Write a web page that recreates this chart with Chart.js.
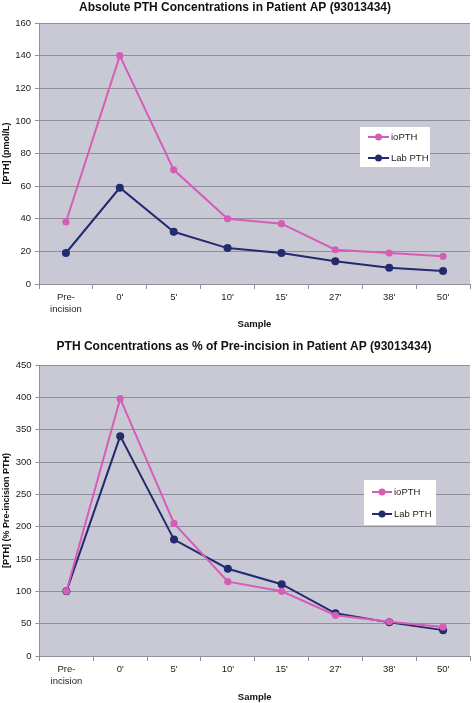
<!DOCTYPE html>
<html>
<head>
<meta charset="utf-8">
<script src="https://cdn.jsdelivr.net/npm/chart.js@4/dist/chart.umd.min.js"></script>
<style>
  html, body { margin: 0; padding: 0; background: #fff; }
  #wrap { position: relative; width: 474px; height: 703px; }
  canvas { position: absolute; left: 0; }
</style>
</head>
<body>
<div id="wrap">
  <canvas id="absChart" width="474" height="340" style="top:0"></canvas>
  <canvas id="pctChart" width="474" height="365" style="top:338px"></canvas>
</div>
<script>
'use strict';

// Data
const sampleLabels = [['Pre-', 'incision'], "0'", "5'", "10'", "15'", "27'", "38'", "50'"];
const ioPthAbs = [38, 140, 70, 40, 37, 21, 19, 17];
const labPthAbs = [19, 59, 32, 22, 19, 14, 10, 8];
const ioPthPct = [100, 398, 205, 115, 100, 63, 53, 45];
const labPthPct = [100, 340, 180, 135, 111, 66, 52, 40];
const absTicks = [0, 20, 40, 60, 80, 100, 120, 140, 160];
const pctTicks = [0, 50, 100, 150, 200, 250, 300, 350, 400, 450];

// Colors
const pink = '#d65db6';
const navy = '#232a6e';
const plotBg = '#c9c9d6';
const gridColor = '#8f8f9c';
const textColor = '#222';
const fontFamily = "'Liberation Sans', Arial, Helvetica, sans-serif";

// plot area background
const plotBackground = {
    id: 'plotBackground',
    beforeDraw(chart) {
        const { ctx, chartArea: a } = chart;
        ctx.save();
        ctx.fillStyle = plotBg;
        ctx.fillRect(a.left, a.top, a.right - a.left, a.bottom - a.top);
        ctx.restore();
    }
};

// title placed at a fixed spot
const fixedTitle = {
    id: 'fixedTitle',
    afterDraw(chart, args, opts) {
        const ctx = chart.ctx;
        ctx.save();
        ctx.font = 'bold 12px ' + fontFamily;
        ctx.fillStyle = '#111';
        ctx.textAlign = 'center';
        ctx.textBaseline = 'middle';
        ctx.fillText(opts.text, opts.x, opts.y);
        ctx.restore();
    }
};

// legend box inside the plot area
const boxLegend = {
    id: 'boxLegend',
    afterDatasetsDraw(chart, args, opts) {
        const ctx = chart.ctx;
        ctx.save();
        ctx.fillStyle = '#fff';
        ctx.fillRect(opts.x, opts.y, opts.w, opts.h);
        chart.data.datasets.forEach((ds, i) => {
            const cy = opts.firstY + i * opts.gap;
            ctx.strokeStyle = ds.borderColor;
            ctx.lineWidth = 2;
            ctx.beginPath();
            ctx.moveTo(opts.x + opts.lineStart, cy);
            ctx.lineTo(opts.x + opts.lineStart + opts.lineLen, cy);
            ctx.stroke();
            ctx.fillStyle = ds.backgroundColor;
            ctx.beginPath();
            ctx.arc(opts.x + opts.lineStart + opts.lineLen / 2, cy, 3.5, 0, Math.PI * 2);
            ctx.fill();
            ctx.fillStyle = textColor;
            ctx.font = '9.5px ' + fontFamily;
            ctx.textAlign = 'left';
            ctx.textBaseline = 'middle';
            ctx.fillText(ds.label, opts.x + opts.lineStart + opts.lineLen + 2, cy + 0.5);
        });
        ctx.restore();
    }
};

function makeChart(id, ioData, labData, tickValues, yTitle, layout) {
    const ctx = document.getElementById(id).getContext('2d');
    return new Chart(ctx, {
        type: 'line',
        data: {
            labels: sampleLabels,
            datasets: [
                {
                    label: 'ioPTH',
                    data: ioData,
                    borderColor: pink,
                    backgroundColor: pink,
                    borderWidth: 2,
                    pointRadius: 3.6,
                    pointBorderWidth: 0,
                    tension: 0
                },
                {
                    label: 'Lab PTH',
                    data: labData,
                    borderColor: navy,
                    backgroundColor: navy,
                    borderWidth: 2,
                    pointRadius: 4,
                    pointBorderWidth: 0,
                    tension: 0
                }
            ]
        },
        options: {
            responsive: false,
            animation: false,
            devicePixelRatio: 1,
            layout: {
                padding: { top: layout.top, right: layout.right, left: 0, bottom: 0 }
            },
            plugins: {
                legend: { display: false },
                tooltip: { enabled: false },
                title: { display: false },
                fixedTitle: layout.title,
                boxLegend: layout.legend
            },
            scales: {
                x: {
                    offset: true,
                    grid: {
                        offset: true,
                        drawOnChartArea: false,
                        drawTicks: true,
                        tickLength: 5,
                        color: gridColor
                    },
                    border: { color: gridColor, width: 1 },
                    ticks: {
                        color: textColor,
                        padding: 3,
                        maxRotation: 0,
                        autoSkip: false,
                        font: { family: fontFamily, size: 9.5 }
                    },
                    title: {
                        display: true,
                        text: 'Sample',
                        color: '#111',
                        padding: { top: 0, bottom: layout.xTitlePad },
                        font: { family: fontFamily, size: 9.5, weight: 'bold' }
                    },
                    afterFit(scale) { scale.height = layout.xHeight; }
                },
                y: {
                    min: tickValues[0],
                    max: tickValues[tickValues.length - 1],
                    afterBuildTicks(scale) {
                        scale.ticks = tickValues.map(v => ({ value: v }));
                    },
                    grid: {
                        color: gridColor,
                        tickLength: 4
                    },
                    border: { color: gridColor, width: 1 },
                    ticks: {
                        color: textColor,
                        padding: 4,
                        font: { family: fontFamily, size: 9.5 }
                    },
                    title: {
                        display: true,
                        text: yTitle,
                        color: '#111',
                        padding: { top: 1, bottom: 0 },
                        font: { family: fontFamily, size: 9, weight: 'bold' }
                    },
                    afterFit(scale) { scale.width = layout.yWidth; }
                }
            }
        },
        plugins: [plotBackground, fixedTitle, boxLegend]
    });
}

makeChart('absChart', ioPthAbs, labPthAbs, absTicks, '[PTH] (pmol/L)', {
    top: 23, right: 4, xHeight: 56, yWidth: 39, xTitlePad: 10,
    title: { text: 'Absolute PTH Concentrations in Patient AP (93013434)', x: 235, y: 8 },
    legend: { x: 360, y: 127, w: 70, h: 40, firstY: 137, gap: 21, lineStart: 8, lineLen: 21 }
});

makeChart('pctChart', ioPthPct, labPthPct, pctTicks, '[PTH] (% Pre-incision PTH)', {
    top: 27, right: 1, xHeight: 47, yWidth: 39.5, xTitlePad: 0,
    title: { text: 'PTH Concentrations as % of Pre-incision in Patient AP (93013434)', x: 244, y: 9 },
    legend: { x: 364, y: 142, w: 72, h: 45, firstY: 154, gap: 22, lineStart: 8, lineLen: 20 }
});
</script>
</body>
</html>
